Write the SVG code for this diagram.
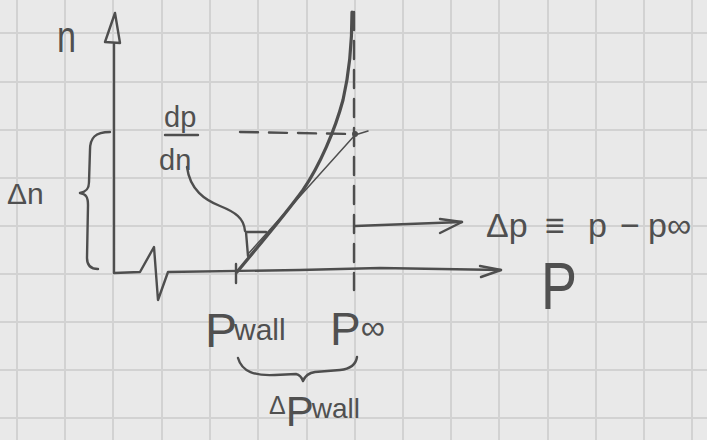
<svg xmlns="http://www.w3.org/2000/svg" width="707" height="440" viewBox="0 0 707 440">
<style>
.grid{stroke:#d2d2d2;stroke-width:2;fill:none}
.pen{stroke:#4e4e4e;fill:none;stroke-linecap:round;stroke-linejoin:round}
.thick{stroke-width:3.2}
.mid{stroke-width:2.4}
.thin{stroke-width:1.5}
.dash{stroke-dasharray:18 11}
.lbl{font-family:"Liberation Sans","DejaVu Sans",sans-serif;fill:#505050}
</style>
<rect width="707" height="440" fill="#e9e9e9"/>
<g id="grid">
<path class="grid" d="M17,0V440M65,0V440M113,0V440M162,0V440M210,0V440M258,0V440M307,0V440M355,0V440M403,0V440M451,0V440M499,0V440M548,0V440M596,0V440M644,0V440M692,0V440M0,33H707M0,82H707M0,130H707M0,178H707M0,226H707M0,274H707M0,322H707M0,370H707M0,418H707"/>
</g>
<g id="connectors">
<path id="n-axis" class="pen mid" d="M114,44 L114,273 L140,272 L154,247 L158,300 L168,272 L300,270 L380,268 L501,270"/>
<path class="pen mid" d="M105,42 L115,13 L120,43 Z"/>
<path class="pen mid" d="M480,266 L501,270 L481,277"/>
<path id="profile" class="pen thick" d="M237,272 C 255,250 285,215 303,190 C 320,165 335,130 343,100 C 350,70 352,40 352,12"/>
<path class="pen mid" d="M236,264 L236,283"/>
<path id="tangent" class="pen thin" d="M249,253 L355,135 L368,131"/>
<circle cx="355" cy="134" r="3" fill="#4e4e4e"/>
<path class="pen mid dash" d="M240,132 L352,134"/>
<path class="pen mid dash" d="M354,12 L354,290"/>
<path class="pen mid" d="M355,226 L462,222"/>
<path class="pen mid" d="M440,219 L462,222 L440,233"/>
<path class="pen mid" d="M187,167 C 190,190 205,200 220,206 C 235,212 244,218 245,231"/>
<path class="pen mid" d="M246,232 L266,232 M246,232 L248,256"/>
<path class="pen mid" d="M110,132 C 95,132 90,138 90,150 L89,182 C 89,190 85,192 80,193 C 86,194 88,197 88,205 L87,258 C 87,266 92,269 98,269"/>
<path class="pen mid" d="M238,358 C 242,372 255,376 275,375 L296,374 C 300,375 302,378 303,381 C 305,376 308,373 315,372 L340,370 C 350,369 356,364 357,357"/>
</g>
<g id="label-n"><text class="lbl" x="57" y="52" font-size="44" textLength="19" lengthAdjust="spacingAndGlyphs">n</text></g>
<g id="label-dn"><text class="lbl" x="7" y="204" font-size="30">Δn</text></g>
<g id="label-dpdn">
<text class="lbl" x="164" y="127" font-size="29">dp</text>
<path class="pen mid" d="M165,135 L198,135"/>
<text class="lbl" x="159" y="170" font-size="29">dn</text>
</g>
<g id="label-dp-def"><text class="lbl" font-size="34" y="237"><tspan x="486">Δp</tspan><tspan x="545">≡</tspan><tspan x="588">p</tspan><tspan x="620">−</tspan><tspan x="648">p∞</tspan></text></g>
<g id="label-p"><text class="lbl" x="541" y="309" font-size="66" textLength="36" lengthAdjust="spacingAndGlyphs">P</text></g>
<g id="label-pwall"><text class="lbl" x="205" y="347" font-size="48">P<tspan font-size="30" dx="-3" dy="-7">wall</tspan></text></g>
<g id="label-pinf"><text class="lbl" x="330" y="345" font-size="46">P<tspan font-size="34" dy="-6">∞</tspan></text></g>
<g id="label-dpwall"><text class="lbl" x="269" y="414" font-size="25">Δ<tspan font-size="42" dy="12">P</tspan><tspan font-size="28" dy="-8" dx="-2">wall</tspan></text></g>
</svg>
